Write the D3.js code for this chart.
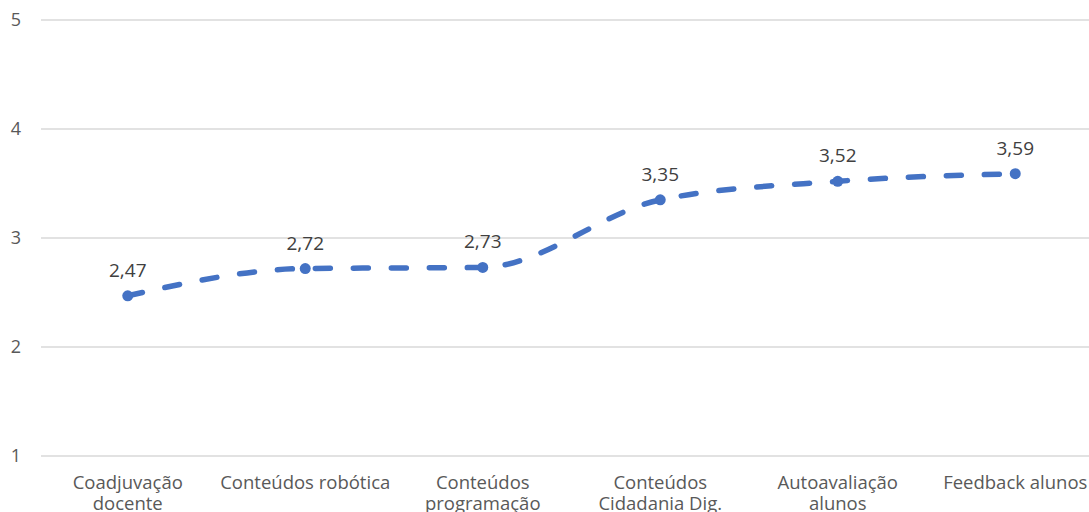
<!DOCTYPE html>
<html>
<head>
<meta charset="utf-8">
<script src="https://cdn.jsdelivr.net/npm/d3@7"></script>
<style>
  body { margin: 0; background: #fff; }
  svg { display: block; font-family: "Open Sans", "Noto Sans", sans-serif; }
</style>
</head>
<body>
<svg width="1089" height="512"></svg>
<script>
// categories (line breaks as in the original axis)
var categories = ["Coadjuvação\ndocente", "Conteúdos robótica", "Conteúdos\nprogramação",
                  "Conteúdos\nCidadania Dig.", "Autoavaliação\nalunos", "Feedback alunos"];
var values = [2.47, 2.72, 2.73, 3.35, 3.52, 3.59];
var valueLabels = ["2,47", "2,72", "2,73", "3,35", "3,52", "3,59"];
var yTicks = [1, 2, 3, 4, 5];

var svg = d3.select("svg");

var x = d3.scalePoint()
  .domain(categories)
  .range([39, 1104])
  .padding(0.5);

var y = d3.scaleLinear()
  .domain([1, 5])
  .range([456, 20]);

// gridlines
svg.append("g")
    .attr("class", "grid")
  .selectAll("line")
  .data(yTicks)
  .enter().append("line")
    .attr("x1", 41)
    .attr("x2", 1089)
    .attr("y1", function(d) { return y(d); })
    .attr("y2", function(d) { return y(d); })
    .attr("stroke", "#d9d9d9")
    .attr("stroke-width", 1.3);

// y tick labels
svg.append("g")
  .selectAll("text")
  .data(yTicks)
  .enter().append("text")
    .attr("x", 16)
    .attr("y", function(d) { return y(d); })
    .attr("dy", "0.35em")
    .attr("text-anchor", "middle")
    .attr("fill", "#595959")
    .style("font-size", "18px")
    .text(function(d) { return d; });

// x category labels
var xl = svg.append("g")
  .selectAll("text")
  .data(categories)
  .enter().append("text")
    .attr("x", function(d) { return x(d); })
    .attr("y", 489)
    .attr("text-anchor", "middle")
    .attr("fill", "#595959")
    .style("font-size", "18.5px");

xl.selectAll("tspan")
  .data(function(d) { return d.split("\n").map(function(s) { return { s: s, c: d }; }); })
  .enter().append("tspan")
    .attr("x", function(d) { return x(d.c); })
    .attr("dy", function(d, i) { return i == 0 ? 0 : 21; })
    .text(function(d) { return d.s; });

// the line
var line = d3.line()
  .x(function(d, i) { return x(categories[i]); })
  .y(function(d) { return y(d); })
  .curve(d3.curveMonotoneX);

svg.append("path")
  .datum(values)
  .attr("d", line)
  .attr("fill", "none")
  .attr("stroke", "#4472c4")
  .attr("stroke-width", 5.5)
  .attr("stroke-linecap", "round")
  .attr("stroke-dasharray", "15,23");

// markers
svg.append("g")
  .selectAll("circle")
  .data(values)
  .enter().append("circle")
    .attr("cx", function(d, i) { return x(categories[i]); })
    .attr("cy", function(d) { return y(d); })
    .attr("r", 5.5)
    .attr("fill", "#4472c4");

// data labels
svg.append("g")
  .selectAll("text")
  .data(values)
  .enter().append("text")
    .attr("x", function(d, i) { return x(categories[i]); })
    .attr("y", function(d) { return y(d) - 19; })
    .attr("text-anchor", "middle")
    .attr("fill", "#404040")
    .style("font-size", "19px")
    .text(function(d, i) { return valueLabels[i]; });
</script>
</body>
</html>
